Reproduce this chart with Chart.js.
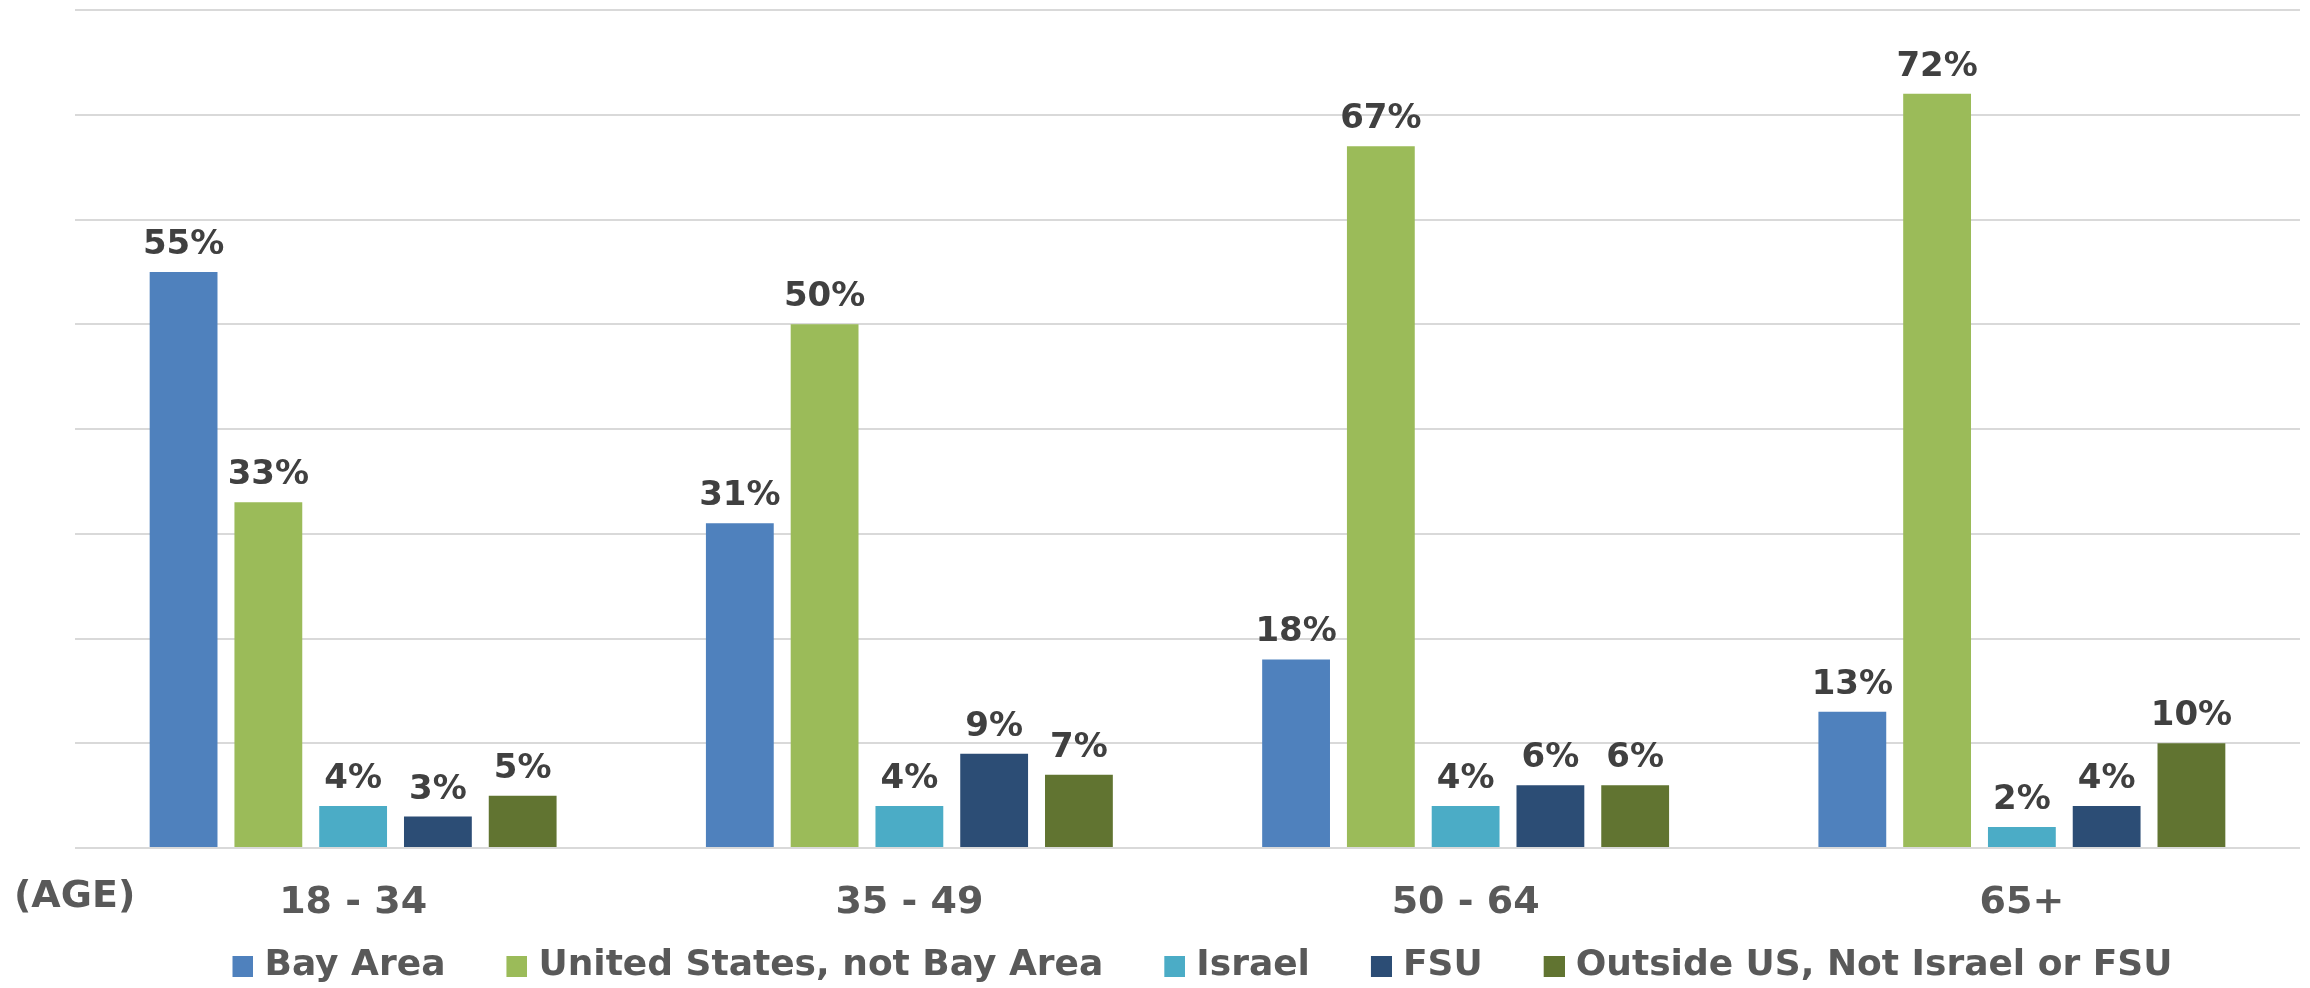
<!DOCTYPE html>
<html>
<head>
<meta charset="utf-8">
<script src="https://cdn.jsdelivr.net/npm/chart.js@4/dist/chart.umd.min.js"></script>
<style>
  body { margin: 0; background: #fff; }
</style>
</head>
<body>
<canvas id="chart" width="2310" height="988"></canvas>
<script>
const ageGroups = ["18 - 34", "35 - 49", "50 - 64", "65+"];
const seriesNames = ["Bay Area", "United States, not Bay Area", "Israel", "FSU", "Outside US, Not Israel or FSU"];
const bayArea = [55, 31, 18, 13];
const usNotBay = [33, 50, 67, 72];
const israel = [4, 4, 4, 2];
const fsu = [3, 9, 6, 4];
const outsideOther = [5, 7, 6, 10];
const colors = ["#4F81BD", "#9BBB59", "#4BACC6", "#2C4D75", "#617431"];

// legend marker: square sitting at the right end of a wider transparent image,
// so the square is close to its text and the gap to the previous item is wider
function legendSquare(color) {
  const c = document.createElement("canvas");
  c.width = 58;
  c.height = 21;
  const g = c.getContext("2d");
  g.fillStyle = color;
  g.fillRect(37, 0, 21, 21);
  return c;
}
const markers = colors.map(legendSquare);

// draws the % labels over each bar and the (AGE) label
const barLabels = {
  id: "barLabels",
  afterDatasetsDraw(chart) {
    const ctx = chart.ctx;
    ctx.save();
    ctx.font = "bold 34px 'DejaVu Sans'";
    ctx.fillStyle = "#404040";
    ctx.textAlign = "center";
    ctx.textBaseline = "alphabetic";
    chart.data.datasets.forEach((ds, i) => {
      chart.getDatasetMeta(i).data.forEach((bar, j) => {
        ctx.fillText(ds.data[j] + "%", bar.x, bar.y - 18);
      });
    });
    ctx.font = "bold 38px 'DejaVu Sans'";
    ctx.fillStyle = "#595959";
    ctx.textAlign = "left";
    ctx.textBaseline = "middle";
    ctx.fillText("(AGE)", 14, 897);
    ctx.restore();
  }
};

const ctx = document.getElementById("chart").getContext("2d");
const chart = new Chart(ctx, {
  type: "bar",
  data: {
    labels: ageGroups,
    datasets: [
      { label: seriesNames[0], data: bayArea, backgroundColor: colors[0] },
      { label: seriesNames[1], data: usNotBay, backgroundColor: colors[1] },
      { label: seriesNames[2], data: israel, backgroundColor: colors[2] },
      { label: seriesNames[3], data: fsu, backgroundColor: colors[3] },
      { label: seriesNames[4], data: outsideOther, backgroundColor: colors[4] }
    ]
  },
  options: {
    responsive: false,
    animation: false,
    layout: { padding: { top: 10, left: 75, right: 10, bottom: 5 } },
    datasets: { bar: { categoryPercentage: 0.762, barPercentage: 0.8 } },
    plugins: {
      tooltip: { enabled: false },
      legend: {
        position: "bottom",
        maxHeight: 66,
        labels: {
          font: { family: "'DejaVu Sans'", size: 36, weight: "bold" },
          color: "#595959",
          usePointStyle: true,
          pointStyleWidth: 44,
          boxHeight: 21,
          padding: 31,
          generateLabels(chart) {
            const items = Chart.defaults.plugins.legend.labels.generateLabels(chart);
            items.forEach((it, i) => { it.pointStyle = markers[i]; });
            return items;
          }
        }
      }
    },
    scales: {
      x: {
        grid: { display: false },
        border: { display: false },
        ticks: {
          font: { family: "'DejaVu Sans'", size: 38, weight: "bold", lineHeight: 1 },
          color: "#595959",
          padding: 28
        },
        afterFit(scale) { scale.height = 69; }
      },
      y: {
        min: 0,
        max: 80,
        ticks: { display: false, stepSize: 10 },
        grid: { color: "#d9d9d9", lineWidth: 2, drawTicks: false },
        border: { display: false },
        afterFit(scale) { scale.width = 0; }
      }
    }
  },
  plugins: [barLabels]
});
</script>
</body>
</html>
